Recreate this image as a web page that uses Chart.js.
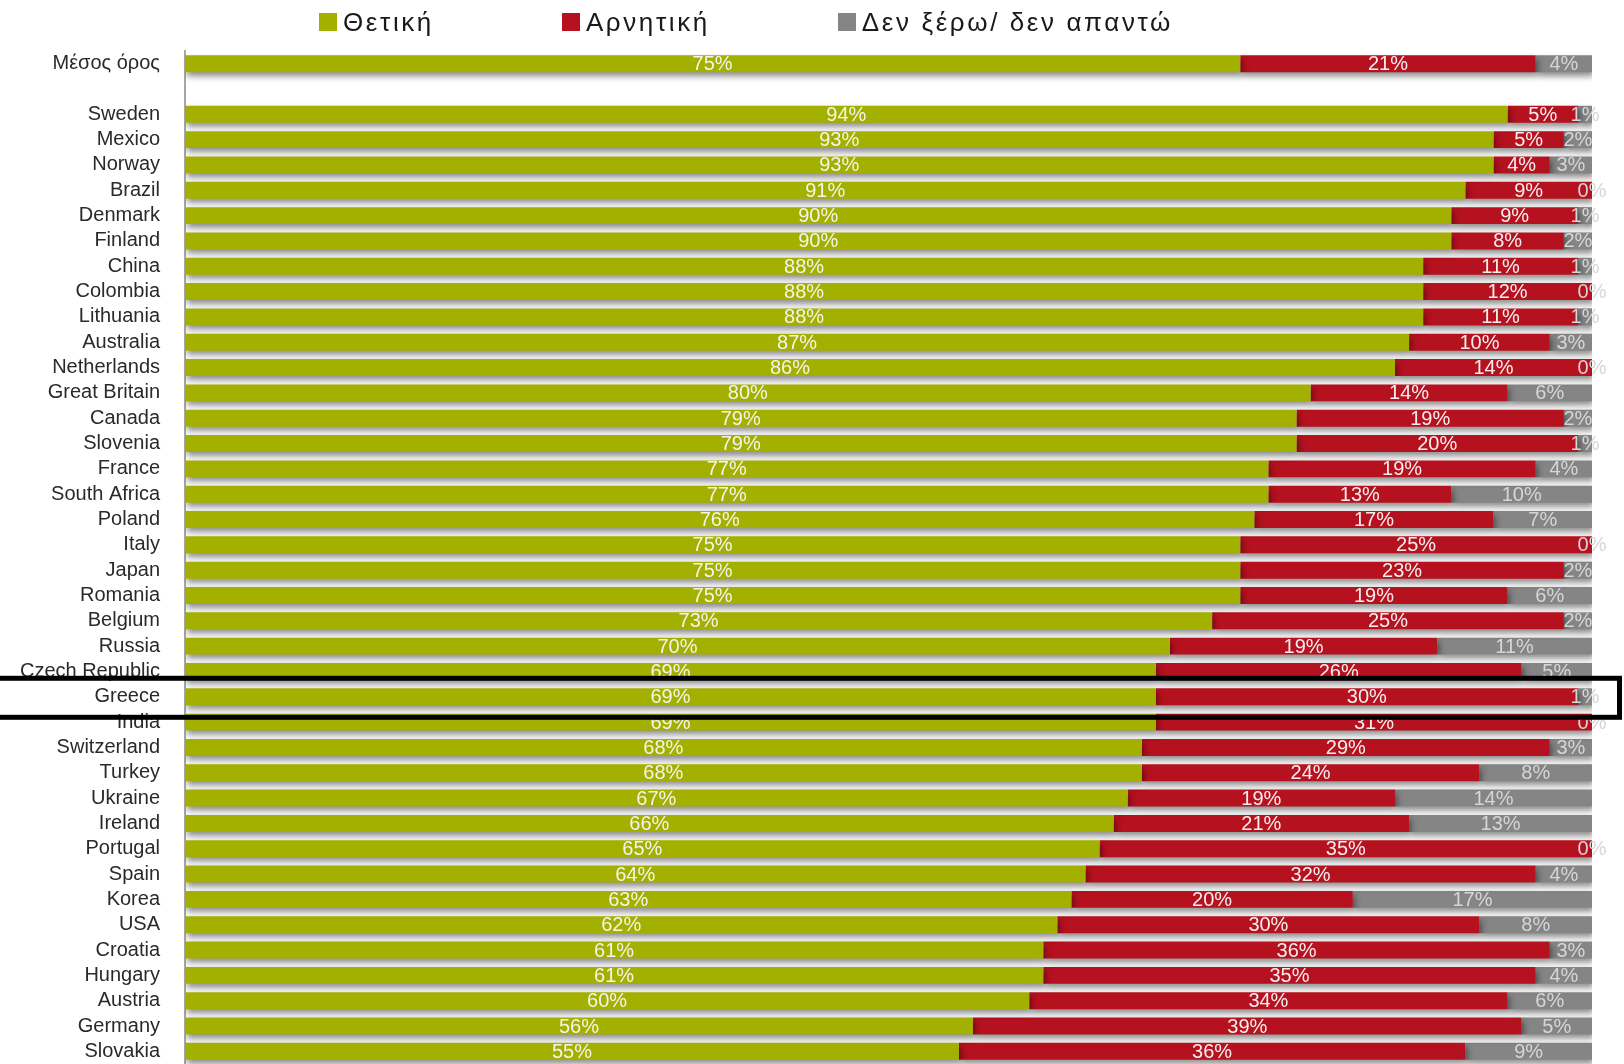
<!DOCTYPE html>
<html lang="el">
<head>
<meta charset="utf-8">
<title>Θετική / Αρνητική</title>
<script src="https://cdn.jsdelivr.net/npm/chart.js@4.4.1/dist/chart.umd.min.js"></script>
<style>
    html, body { margin: 0; padding: 0; background: #fff; overflow: hidden; }
    #wrap { position: relative; width: 1624px; height: 1064px; }
    #legend { position: absolute; top: 8px; left: 319px; display: flex; align-items: center;
              font-family: "Liberation Sans", Arial, sans-serif; font-size: 26px; letter-spacing: 2.6px;
              line-height: 28px; color: #1a1a1a; }
    #legend .item { display: flex; align-items: center; margin-right: 128px; }
    #legend .box { width: 18px; height: 18px; margin-right: 6px; }
</style>
</head>
<body>
<div id="wrap">
    <canvas id="chart" width="1624" height="1064"></canvas>
    <div id="legend"></div>
</div>
<script>
// dati (%)
const categories = ['Μέσος όρος', '', 'Sweden', 'Mexico', 'Norway', 'Brazil', 'Denmark', 'Finland',
    'China', 'Colombia', 'Lithuania', 'Australia', 'Netherlands', 'Great Britain', 'Canada',
    'Slovenia', 'France', 'South Africa', 'Poland', 'Italy', 'Japan', 'Romania', 'Belgium',
    'Russia', 'Czech Republic', 'Greece', 'India', 'Switzerland', 'Turkey', 'Ukraine', 'Ireland',
    'Portugal', 'Spain', 'Korea', 'USA', 'Croatia', 'Hungary', 'Austria', 'Germany', 'Slovakia'];

const positive = [75, null, 94, 93, 93, 91, 90, 90, 88, 88, 88, 87, 86, 80, 79, 79, 77, 77, 76,
    75, 75, 75, 73, 70, 69, 69, 69, 68, 68, 67, 66, 65, 64, 63, 62, 61, 61, 60, 56, 55];

const negative = [21, null, 5, 5, 4, 9, 9, 8, 11, 12, 11, 10, 14, 14, 19, 20, 19, 13, 17,
    25, 23, 19, 25, 19, 26, 30, 31, 29, 24, 19, 21, 35, 32, 20, 30, 36, 35, 34, 39, 36];

const dontKnow = [4, null, 1, 2, 3, 0, 1, 2, 1, 0, 1, 3, 0, 6, 2, 1, 4, 10, 7,
    0, 2, 6, 2, 11, 5, 1, 0, 3, 8, 14, 13, 0, 4, 17, 8, 3, 4, 6, 5, 9];

const seriesNames = ['Θετική', 'Αρνητική', 'Δεν ξέρω/ δεν απαντώ'];
const seriesColors = ['#a3b000', '#b5111e', '#858585'];
const labelColors = ['#f4f4ea', '#f6eeee', '#d6d6d6'];
const highlighted = 'Greece';

const FONT = '"Liberation Sans", Arial, sans-serif';

// ombra sotto le barre + etichette con i valori
const barDecor = {
    id: 'barDecor',
    beforeDatasetsDraw(chart) {
        const ctx = chart.ctx;
        ctx.save();
        ctx.shadowColor = 'rgba(0,0,0,0.45)';
        ctx.shadowBlur = 6;
        ctx.shadowOffsetX = 2;
        ctx.shadowOffsetY = 4;
    },
    afterDatasetsDraw(chart) {
        const ctx = chart.ctx;
        ctx.restore();
        ctx.save();
        ctx.font = '20px ' + FONT;
        ctx.textAlign = 'center';
        ctx.textBaseline = 'middle';
        chart.data.datasets.forEach((ds, di) => {
            const meta = chart.getDatasetMeta(di);
            ctx.fillStyle = labelColors[di];
            meta.data.forEach((bar, i) => {
                const v = ds.data[i];
                if (v === null || v === undefined) return;
                ctx.fillText(v + '%', (bar.x + bar.base) / 2, bar.y + 1);
            });
        });
        ctx.restore();
    }
};

// riquadro nero attorno alla Grecia
const highlightBox = {
    id: 'highlightBox',
    afterDraw(chart) {
        const y = chart.scales.y.getPixelForValue(categories.indexOf(highlighted));
        const ctx = chart.ctx;
        ctx.save();
        ctx.strokeStyle = '#000';
        ctx.lineWidth = 5;
        ctx.strokeRect(-10, y - 18.5, 1629.5, 39);
        ctx.restore();
    }
};

const chart = new Chart(document.getElementById('chart'), {
    type: 'bar',
    data: {
        labels: categories,
        datasets: [
            { label: seriesNames[0], data: positive, backgroundColor: seriesColors[0] },
            { label: seriesNames[1], data: negative, backgroundColor: seriesColors[1] },
            { label: seriesNames[2], data: dontKnow, backgroundColor: seriesColors[2] }
        ]
    },
    options: {
        indexAxis: 'y',
        responsive: false,
        animation: false,
        datasets: { bar: { categoryPercentage: 1, barPercentage: 0.67, borderWidth: 0 } },
        layout: { padding: { top: 51, right: 32, bottom: 0, left: 0 } },
        plugins: {
            legend: { display: false },
            tooltip: { enabled: false }
        },
        scales: {
            x: { stacked: true, min: 0, max: 100, display: false },
            y: {
                stacked: true,
                afterFit(scale) {
                    scale.width = 185;
                    scale.paddingTop = 0;
                    scale.paddingBottom = 0;
                },
                grid: { display: false, drawTicks: false },
                border: { display: true, color: '#a6a6a6', width: 2 },
                ticks: {
                    autoSkip: false,
                    padding: 25,
                    color: '#2a2a2a',
                    font: { family: FONT, size: 20 }
                }
            }
        }
    },
    plugins: [barDecor, highlightBox]
});

// legenda in HTML, costruita dai dataset
const legendDiv = document.getElementById('legend');
chart.data.datasets.forEach(ds => {
    const item = document.createElement('div');
    item.className = 'item';
    item.innerHTML = `<span class="box" style="background:${ds.backgroundColor}"></span><span>${ds.label}</span>`;
    legendDiv.appendChild(item);
});
</script>
</body>
</html>
